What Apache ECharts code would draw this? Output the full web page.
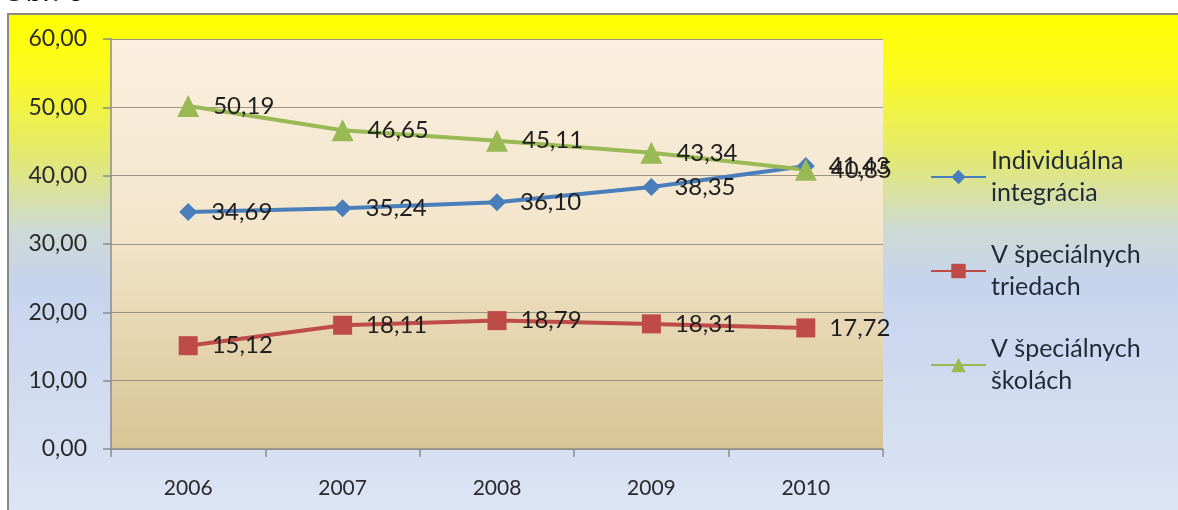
<!DOCTYPE html>
<html>
<head>
<meta charset="utf-8">
<script src="https://cdn.jsdelivr.net/npm/echarts@6/dist/echarts.min.js"></script>
<style>
html,body{margin:0;padding:0;background:#fff;overflow:hidden;}
#c{width:1178px;height:510px;}
</style>
</head>
<body>
<div id="c"></div>
<script>
const categories = ['2006', '2007', '2008', '2009', '2010'];
const individualna = [34.69, 35.24, 36.10, 38.35, 41.43];
const triedy = [15.12, 18.11, 18.79, 18.31, 17.72];
const skoly = [50.19, 46.65, 45.11, 43.34, 40.85];
const seriesNames = ['Individuálna integrácia', 'V špeciálnych triedach', 'V špeciálnych školách'];
const legendLabels = ['Individuálna\nintegrácia', 'V špeciálnych\ntriedach', 'V špeciálnych\nškolách'];

const fmt = v => v.toFixed(2).replace('.', ',');
const FONT = 'Lato';

const chart = echarts.init(document.getElementById('c'));

const labelCfg = {
  show: true,
  position: 'right',
  distance: 14,
  offset: [0, 3],
  fontFamily: FONT,
  fontSize: 24,
  color: '#1e1e1e',
  formatter: p => fmt(p.value)
};

function mkSeries(name, data, color, symbol, size) {
  return {
    name: name,
    type: 'line',
    data: data,
    symbol: symbol,
    symbolSize: size,
    showAllSymbol: true,
    lineStyle: { color: color, width: 4 },
    itemStyle: { color: color },
    label: labelCfg,
    labelLayout: { hideOverlap: false },
    emphasis: { disabled: true },
    z: 3
  };
}

chart.setOption({
  animation: false,
  backgroundColor: '#ffffff',
  graphic: [
    {
      type: 'rect',
      z: -10,
      silent: true,
      shape: { x: 8, y: 14, width: 1200, height: 520 },
      style: {
        fill: new echarts.graphic.LinearGradient(0, 0, 0, 1, [
          { offset: 0, color: '#ffff00' },
          { offset: 0.12, color: '#fafa22' },
          { offset: 0.28, color: '#e2e874' },
          { offset: 0.42, color: '#cdd9d6' },
          { offset: 0.52, color: '#c6d4ed' },
          { offset: 1, color: '#dfe6f5' }
        ]),
        stroke: '#8a8a8a',
        lineWidth: 2
      }
    },
    {
      type: 'text',
      left: 2,
      top: -24,
      silent: true,
      style: { text: 'Obr. 6', fontFamily: FONT, fontSize: 30, fill: '#111' }
    }
  ],
  legend: {
    orient: 'vertical',
    left: 930,
    top: 129,
    padding: 0,
    itemWidth: 55,
    itemHeight: 18,
    itemGap: -2,
    data: seriesNames,
    formatter: name => legendLabels[seriesNames.indexOf(name)],
    textStyle: {
      fontFamily: FONT,
      fontSize: 25,
      color: '#1f2a36',
      lineHeight: 32,
      padding: [32, 0, 0, 0]
    }
  },
  grid: {
    left: 111,
    right: 295,
    top: 39,
    bottom: 61,
    show: true,
    borderWidth: 0,
    backgroundColor: new echarts.graphic.LinearGradient(0, 0, 0, 1, [
      { offset: 0, color: '#fcefdf' },
      { offset: 0.45, color: '#f3e6cc' },
      { offset: 1, color: '#d8c494' }
    ])
  },
  xAxis: {
    type: 'category',
    data: categories,
    boundaryGap: true,
    axisLine: { lineStyle: { color: '#8c8c8c', width: 1.5 } },
    axisTick: { show: true, length: 8, lineStyle: { color: '#8c8c8c', width: 1.5 } },
    axisLabel: { fontFamily: FONT, fontSize: 21, color: '#2a2a2a', margin: 29 },
    splitLine: { show: false }
  },
  yAxis: {
    type: 'value',
    min: 0,
    max: 60,
    interval: 10,
    axisLine: { show: true, lineStyle: { color: '#8c8c8c', width: 1.5 } },
    axisTick: { show: true, length: 8, lineStyle: { color: '#8c8c8c', width: 1.5 } },
    axisLabel: { fontFamily: FONT, fontSize: 23, color: '#2a2a2a', margin: 24, formatter: v => fmt(v) },
    splitLine: { show: true, lineStyle: { color: '#9a9585', width: 1 } }
  },
  series: [
    mkSeries(seriesNames[0], individualna, '#4a7ebb', 'diamond', 18),
    mkSeries(seriesNames[1], triedy, '#be4b48', 'rect', 19),
    mkSeries(seriesNames[2], skoly, '#98b954', 'triangle', 22)
  ]
});
</script>
</body>
</html>
